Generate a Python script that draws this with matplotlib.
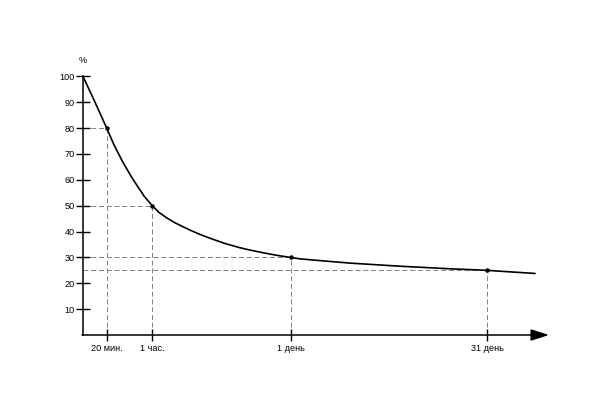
import matplotlib
matplotlib.use("Agg")
import matplotlib.pyplot as plt

plt.rcParams['font.family'] = ['Liberation Sans', 'DejaVu Sans']

# Curve samples (x = position along the time axis, y = % retained)
curve_x = [0, 11.8, 23.7, 31, 40.3, 50.3, 61.3, 69.3, 76, 83.7, 91.5, 100.3, 108.5,
           117, 125, 133.7, 141, 149, 156.5, 164, 172, 179, 189, 198, 207.7,
           217, 242, 267, 292, 317, 342, 367, 386, 404, 428, 452]
curve_y = [100, 90.2, 80, 73.5, 66.5, 60, 53.6, 50, 47.4, 45.3, 43.5, 41.8, 40.3,
           38.9, 37.7, 36.5, 35.5, 34.6, 33.8, 33.1, 32.45, 31.9, 31.15, 30.55, 30,
           29.45, 28.6, 27.8, 27.2, 26.6, 26.1, 25.6, 25.3, 25, 24.4, 23.8]

# Marked points
tick_labels = ["20 мин.", "1 час.", "1 день", "31 день"]
tick_pos = [23.7, 69.3, 207.7, 404]
tick_vals = [80, 50, 30, 25]

y_ticks = [10, 20, 30, 40, 50, 60, 70, 80, 90, 100]

W, H = 602, 407
fig = plt.figure(figsize=(W / 100, H / 100), dpi=100)
ax_left, ax_bottom = 83, 72
xmax, ymax = 475, 110
ppu_y = 2.586
ax = fig.add_axes([ax_left / W, ax_bottom / H, xmax / W, ymax * ppu_y / H])
ax.set_xlim(0, xmax)
ax.set_ylim(0, ymax)

for s in ['top', 'right', 'bottom']:
    ax.spines[s].set_visible(False)
ax.spines['left'].set_bounds(0, 100)
ax.spines['left'].set_linewidth(1.1)

# Guide lines
for xp, yv in zip(tick_pos, tick_vals):
    ax.plot([0, xp], [yv, yv], color='#808080', lw=0.7, ls=(0, (5, 3)), zorder=1)
    ax.plot([xp, xp], [0, yv], color='#808080', lw=0.7, ls=(0, (5, 3)), zorder=1)

ax.plot(curve_x, curve_y, color='black', lw=1.2, solid_joinstyle='round',
        solid_capstyle='round', zorder=3)
ax.plot(tick_pos, tick_vals, 'o', color='black', ms=2.2, zorder=4)

# X axis with arrow
ax.annotate('', xy=(466, 0), xytext=(-1, 0), xycoords='data',
            arrowprops=dict(arrowstyle='-|>,head_length=1.1,head_width=0.35',
                            mutation_scale=10, lw=1.1, color='black',
                            shrinkA=0, shrinkB=0),
            annotation_clip=False)

ax.set_yticks(y_ticks)
ax.set_yticklabels([str(v) for v in y_ticks], fontsize=6.6)
ax.tick_params(axis='y', direction='inout', length=10, width=1.0, pad=1)

ax.set_xticks(tick_pos)
ax.set_xticklabels(tick_labels, fontsize=6.6)
ax.tick_params(axis='x', direction='inout', length=9, width=1.0, pad=2)

ax.text(0, 106, '%', fontsize=6.6, ha='center', va='center')

fig.savefig('out.png', dpi=100)
